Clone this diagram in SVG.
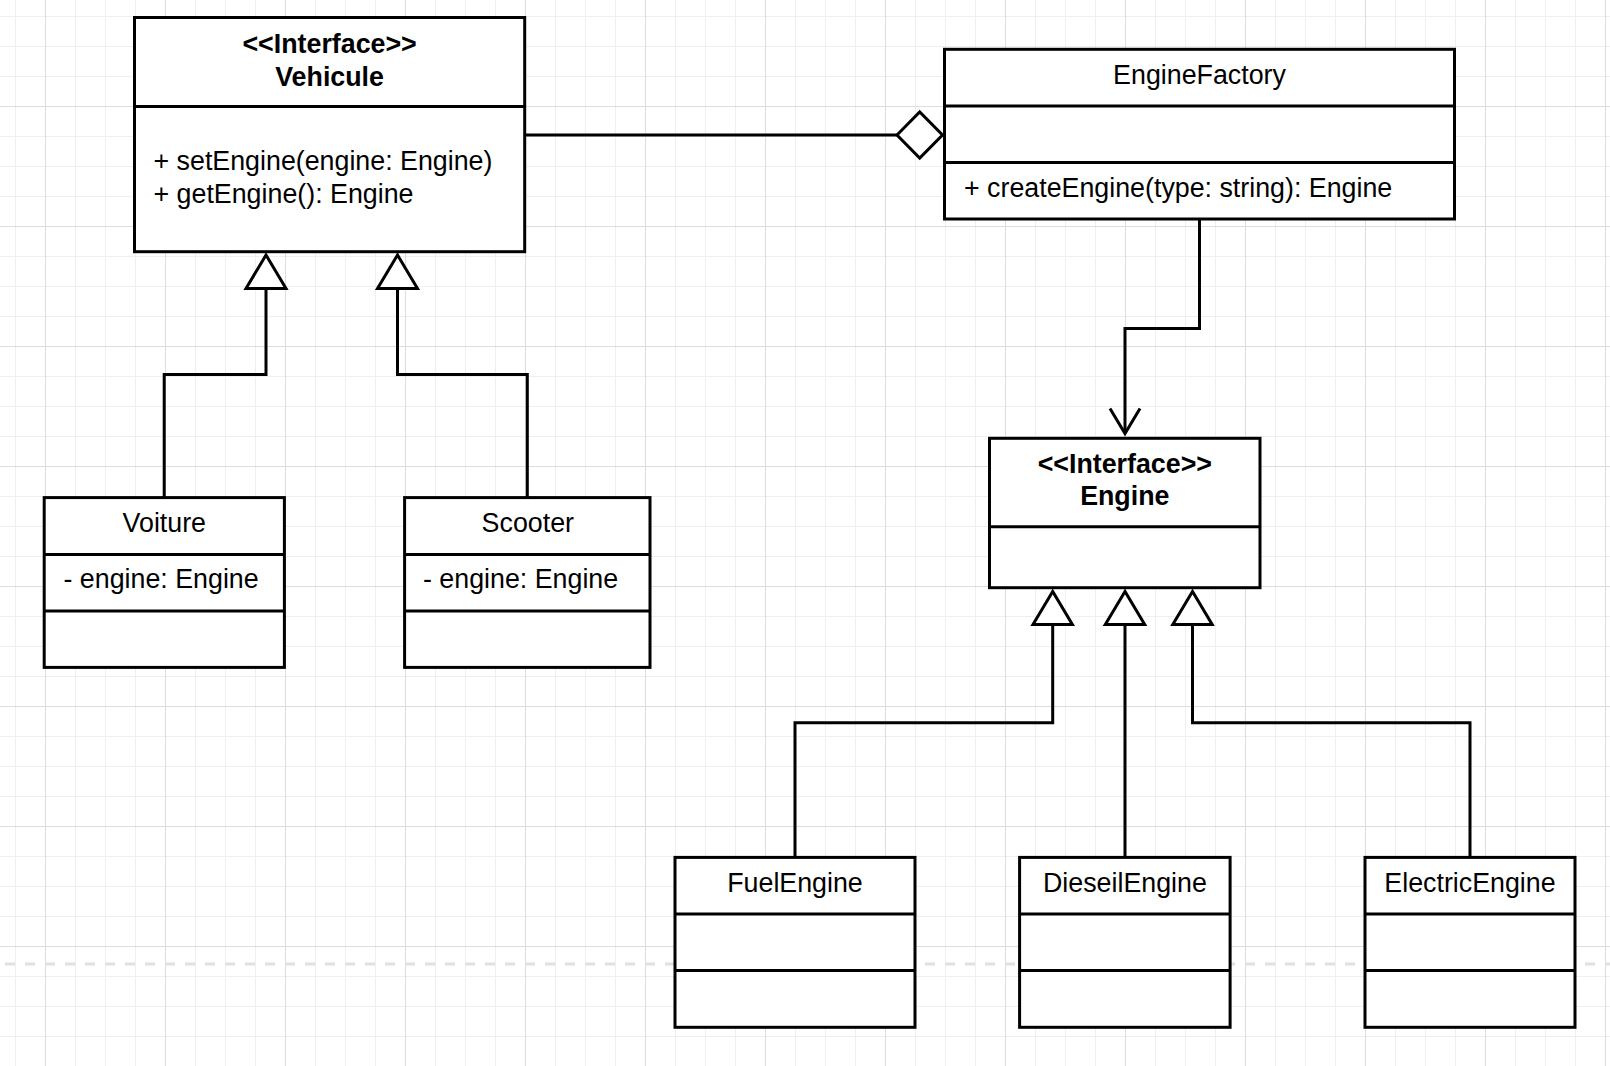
<svg xmlns="http://www.w3.org/2000/svg" width="1610" height="1066" viewBox="0 0 1610 1066">
<style>
.box{fill:#ffffff;stroke:#000000;stroke-width:3}
.div{stroke:#000000;stroke-width:3;fill:none}
.t{font-family:"Liberation Sans",Arial,sans-serif;font-size:26.8px;fill:#000000}
.b{font-weight:bold}
.c{text-anchor:middle}
.edge{fill:none;stroke:#000000;stroke-width:3}
.tri{fill:#ffffff;stroke:#000000;stroke-width:3;stroke-linejoin:miter}
</style>
<defs>
<pattern id="minor" width="30" height="30" patternUnits="userSpaceOnUse">
<path d="M15.5,0 V30 M0,16.5 H30" stroke="#efefef" stroke-width="1" fill="none"/>
</pattern>
<pattern id="major" width="120" height="120" patternUnits="userSpaceOnUse">
<path d="M45.5,0 V120 M0,106.5 H120" stroke="#dedede" stroke-width="1" fill="none"/>
</pattern>
</defs>
<rect x="0" y="0" width="1610" height="1066" fill="#ffffff"/>
<rect x="0" y="0" width="1610" height="1066" fill="url(#minor)"/>
<rect x="0" y="0" width="1610" height="1066" fill="url(#major)"/>
<line x1="5" y1="964" x2="1610" y2="964" stroke="#e0e0e0" stroke-width="3" stroke-dasharray="10 10"/>

<g id="connectors">
<path class="edge" d="M524.7,135 H897"/>
<path class="tri" d="M897,135 L919.7,112 L942.5,135 L919.7,158 Z"/>
<path class="edge" d="M1199.5,219 V328.5 H1125 V433"/>
<path class="edge" d="M1110,408.5 L1125,433.5 L1140,408.5"/>
<path class="edge" d="M164.2,498 V374.5 H266 V288.5"/>
<path class="tri" d="M266,255 L246,288.5 L286,288.5 Z"/>
<path class="edge" d="M527.3,498 V374.5 H397.5 V288.5"/>
<path class="tri" d="M397.5,255 L377.5,288.5 L417.5,288.5 Z"/>
<path class="edge" d="M795,857.4 V722.7 H1052.7 V624.5"/>
<path class="tri" d="M1052.7,591.5 L1033,624.5 L1072.4,624.5 Z"/>
<path class="edge" d="M1125,857.4 V624.5"/>
<path class="tri" d="M1125,591.5 L1105.3,624.5 L1144.7,624.5 Z"/>
<path class="edge" d="M1470,857.4 V722.7 H1192.5 V624.5"/>
<path class="tri" d="M1192.5,591.5 L1172.8,624.5 L1212.2,624.5 Z"/>
</g>

<g id="Vehicule">
<rect class="box" x="134.5" y="17.5" width="390.2" height="234.2"/>
<line class="div" x1="134.5" y1="106.5" x2="524.7" y2="106.5"/>
<text class="t b c" x="329.6" y="52.7">&lt;&lt;Interface&gt;&gt;</text>
<text class="t b c" x="329.6" y="85.5">Vehicule</text>
<text class="t" x="153.5" y="170">+ setEngine(engine: Engine)</text>
<text class="t" x="153.5" y="202.7">+ getEngine(): Engine</text>
</g>

<g id="EngineFactory">
<rect class="box" x="944.5" y="49.3" width="510" height="169.7"/>
<line class="div" x1="944.5" y1="106" x2="1454.5" y2="106"/>
<line class="div" x1="944.5" y1="162.6" x2="1454.5" y2="162.6"/>
<text class="t c" x="1199.5" y="84">EngineFactory</text>
<text class="t" x="964" y="196.7">+ createEngine(type: string): Engine</text>
</g>

<g id="Engine">
<rect class="box" x="989.5" y="438.3" width="270.5" height="149.4"/>
<line class="div" x1="989.5" y1="526.7" x2="1260" y2="526.7"/>
<text class="t b c" x="1124.8" y="472.7">&lt;&lt;Interface&gt;&gt;</text>
<text class="t b c" x="1124.8" y="504.5">Engine</text>
</g>

<g id="Voiture">
<rect class="box" x="44.2" y="497.6" width="240.2" height="169.8"/>
<line class="div" x1="44.2" y1="554.5" x2="284.4" y2="554.5"/>
<line class="div" x1="44.2" y1="610.9" x2="284.4" y2="610.9"/>
<text class="t c" x="164.3" y="532">Voiture</text>
<text class="t" x="63.5" y="588.3">- engine: Engine</text>
</g>

<g id="Scooter">
<rect class="box" x="404.6" y="497.6" width="245.4" height="169.8"/>
<line class="div" x1="404.6" y1="554.5" x2="650" y2="554.5"/>
<line class="div" x1="404.6" y1="610.9" x2="650" y2="610.9"/>
<text class="t c" x="527.8" y="532">Scooter</text>
<text class="t" x="423" y="588.3">- engine: Engine</text>
</g>

<g id="FuelEngine">
<rect class="box" x="675" y="857.4" width="240" height="169.9"/>
<line class="div" x1="675" y1="914" x2="915" y2="914"/>
<line class="div" x1="675" y1="970.6" x2="915" y2="970.6"/>
<text class="t c" x="795" y="892">FuelEngine</text>
</g>

<g id="DieseilEngine">
<rect class="box" x="1019.6" y="857.4" width="210.5" height="169.9"/>
<line class="div" x1="1019.6" y1="914" x2="1230.1" y2="914"/>
<line class="div" x1="1019.6" y1="970.6" x2="1230.1" y2="970.6"/>
<text class="t c" x="1124.9" y="892">DieseilEngine</text>
</g>

<g id="ElectricEngine">
<rect class="box" x="1365" y="857.4" width="210" height="169.9"/>
<line class="div" x1="1365" y1="914" x2="1575" y2="914"/>
<line class="div" x1="1365" y1="970.6" x2="1575" y2="970.6"/>
<text class="t c" x="1470" y="892">ElectricEngine</text>
</g>
</svg>
